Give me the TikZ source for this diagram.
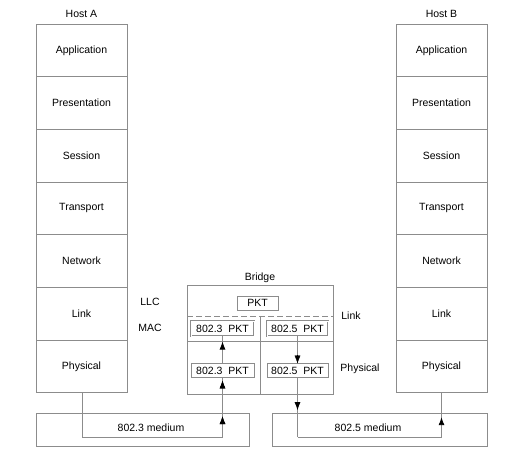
\documentclass[tikz,border=0pt]{standalone}
\usepackage{fontspec}
\setmainfont{Liberation Sans}
\usetikzlibrary{arrows.meta,decorations.markings}
\definecolor{ln}{gray}{0.55}
\tikzset{
  layer/.style={draw=ln,line width=0.9pt,minimum width=91pt,minimum height=52.7pt,inner sep=0pt,outer sep=0pt,anchor=north},
  lbl/.style={inner sep=0pt,font=\fontsize{10.5}{12}\selectfont},
  pkt/.style={draw=ln,line width=0.8pt,inner sep=0pt,outer sep=0pt,minimum height=14pt,font=\fontsize{10.5}{12}\selectfont},
  dpkt/.style={pkt,double=white,double distance=1pt,line width=0.6pt,minimum height=15pt},
  conn/.style={draw=ln,line width=0.9pt},
  tip/.style={-{Latex[length=8pt,width=6pt]},black},
  midarrow/.style={postaction={decorate},decoration={markings,mark=at position #1 with {\arrow{Latex[length=8pt,width=6pt,black]}}}}
}
\begin{document}
\begin{tikzpicture}[x=1pt,y=-1pt,font=\fontsize{10.5}{12}\selectfont]
\useasboundingbox (0,0) rectangle (519,469);
% Host A
\node[lbl] (hA) at (81.5,14) {Host A};
\node[layer] (a1) at (81.5,24) {Application};
\node[layer] (a2) at (a1.south) {Presentation};
\node[layer] (a3) at (a2.south) {Session};
\node[layer] (a4) at (a3.south) {Transport};
\node[layer] (a5) at (a4.south) {Network};
\node[layer] (a6) at (a5.south) {Link};
\node[layer] (a7) at (a6.south) {Physical};
% Host B
\node[lbl] (hB) at (441.5,14) {Host B};
\node[layer] (b1) at (441.5,24) {Application};
\node[layer] (b2) at (b1.south) {Presentation};
\node[layer] (b3) at (b2.south) {Session};
\node[layer] (b4) at (b3.south) {Transport};
\node[layer] (b5) at (b4.south) {Network};
\node[layer] (b6) at (b5.south) {Link};
\node[layer] (b7) at (b6.south) {Physical};
% Bridge
\node[lbl] (br) at (260,278) {Bridge};
\node[draw=ln,line width=0.9pt,minimum width=146pt,minimum height=109pt,inner sep=0pt,outer sep=0pt] (bridge) at (260,339.5) {};
\coordinate (dL) at (187,316);
\coordinate (dR) at (333,316);
\draw[ln,line width=0.9pt,dash pattern=on 6pt off 3pt] (dL) -- (dR);
\coordinate (sL) at (187,341);
\coordinate (sR) at (333,341);
\draw[ln,line width=0.9pt] (sL) -- (sR);
\coordinate (vT) at (260,316);
\coordinate (vB) at (260,394);
\draw[ln,line width=0.9pt] (vT) -- (vB);
\node[pkt,minimum width=41pt] (llcpkt) at (257.5,303) {PKT};
\node[dpkt,minimum width=63pt] (m3) at (222.5,328.5) {802.3\ \ PKT};
\node[dpkt,minimum width=61pt] (m5) at (297.5,328.5) {802.5\ \ PKT};
\node[pkt,minimum width=63pt] (p3) at (222.5,370.5) {802.3\ \ PKT};
\node[pkt,minimum width=61pt] (p5) at (297.5,370.5) {802.5\ \ PKT};
\node[lbl] (llc) at (150,302) {LLC};
\node[lbl] (mac) at (150,328) {MAC};
\node[lbl] (lk) at (351,316) {Link};
\node[lbl] (ph) at (360,369) {Physical};
% media
\node[draw=ln,line width=0.9pt,minimum width=213pt,minimum height=33pt,inner sep=0pt,outer sep=0pt] (med3) at (142.5,429.5) {};
\node[draw=ln,line width=0.9pt,minimum width=215pt,minimum height=33pt,inner sep=0pt,outer sep=0pt] (med5) at (379.5,429.5) {};
\node[lbl] (m3t) at (151,428) {802.3 medium};
\node[lbl] (m5t) at (368,428) {802.5 medium};
% connectors
\coordinate (c1) at (82,437);
\coordinate (c2) at (p3.south |- c1);
\draw[conn] (a7.south -| c1) -- (c1) -- (c2);
\draw[conn,midarrow=0.35,midarrow=0.95] (c2) -- (p3.south);
\draw[conn,midarrow=0.8] (p3.north) -- (m3.south);
\draw[conn] (m5.south) -- (p5.north);
\draw[tip] ([yshift=9pt]p5.north) -- (p5.north);
\coordinate (c3) at (p5.south |- c1);
\coordinate (c4) at (b7.south |- c1);
\draw[conn,midarrow=0.55] (p5.south) -- (c3);
\draw[conn] (c3) -- (c4);
\draw[conn,midarrow=0.45] (c4) -- (b7.south);
\end{tikzpicture}
\end{document}
